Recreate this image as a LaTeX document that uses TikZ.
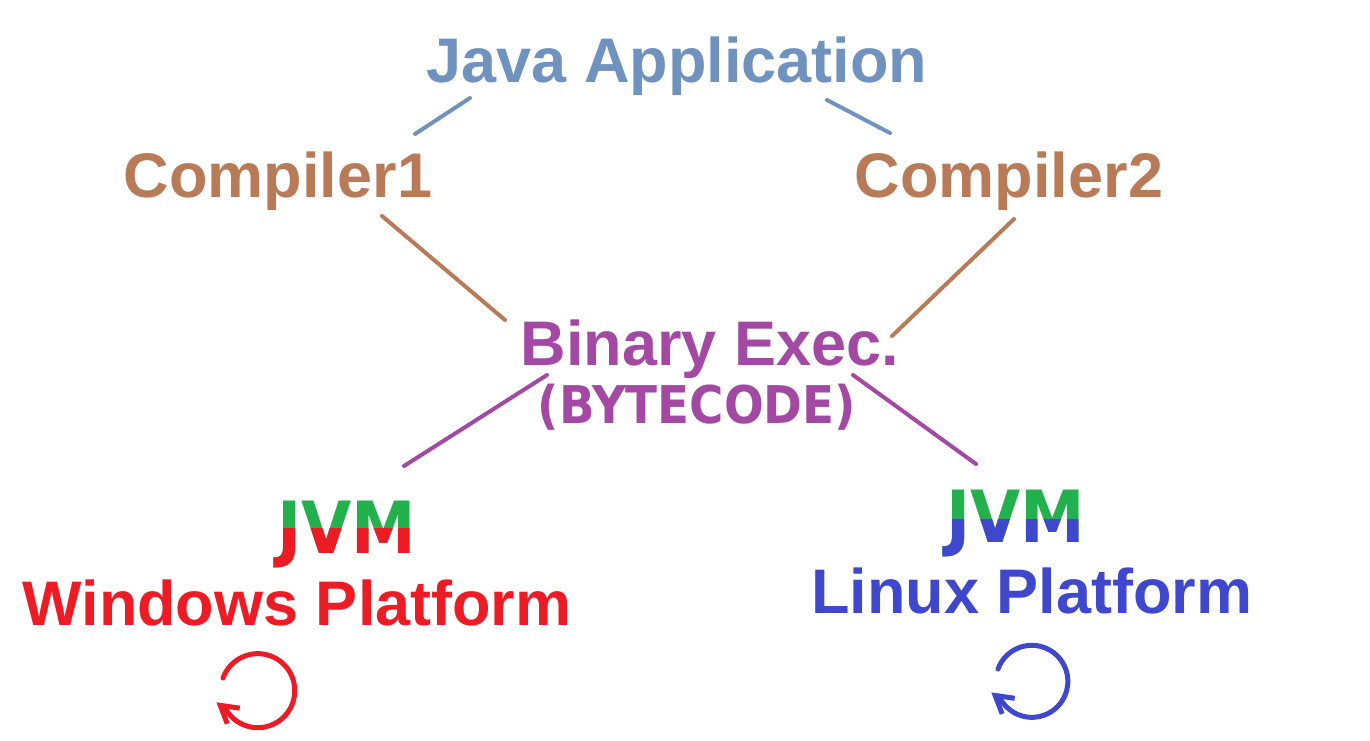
\documentclass[tikz,border=0pt]{standalone}
\usepackage{tikz}
\usepackage{xcolor}
\usepackage{fontspec}
\setmainfont{Liberation Sans}
\newfontfamily\comicfont{DejaVu Sans Condensed}
\usetikzlibrary{arrows.meta}

\definecolor{appblue}{RGB}{112,146,190}
\definecolor{compbrown}{RGB}{185,122,87}
\definecolor{binpurple}{RGB}{163,73,164}
\definecolor{winred}{RGB}{237,28,36}
\definecolor{linblue}{RGB}{63,72,204}
\definecolor{jvmgreen}{RGB}{34,177,76}

\begin{document}
\begin{tikzpicture}[x=0.5pt, y=-0.5pt,
    every node/.style = {inner sep=0pt, anchor=base,
      font=\fontsize{31.5}{36}\selectfont\bfseries},
    jvm/.style = {font=\comicfont\bfseries\fontsize{36}{40}\selectfont},
    code/.style = {font=\comicfont\bfseries\fontsize{26}{30}\selectfont},
    link/.style = {line width=2pt, line cap=round},
    turn/.style = {line width=2.5pt, line cap=round,
      -{Straight Barb[length=8.5pt,width=10pt]}}]
    \useasboundingbox (0,0) rectangle (1370,740);
    \node[appblue] (app) at (677,82) {Java Application};
    \node[compbrown] (comp1) at (278,197) {Compiler1};
    \node[compbrown] (comp2) at (1009,197) {Compiler2};
    \node[binpurple] (binary) at (710,365) {Binary Exec.};
    \node[binpurple, code] (bytecode) at (697,423) {(BYTECODE)};
    \node[winred] (win) at (297,625) {Windows Platform};
    \node[linblue] (lin) at (1032,613) {Linux Platform};
    % JVM, green on top
    \node[jvm, jvmgreen] (jvmwin) at (347,553) {JVM};
    \node[jvm, jvmgreen] (jvmlin) at (1016,542) {JVM};
    \begin{scope}
      \clip ([shift={(-90,-25)}]jvmwin.base) rectangle ([shift={(90,30)}]jvmwin.base);
      \node[jvm, winred] (jvmwinlow) at (jvmwin.base) {JVM};
    \end{scope}
    \begin{scope}
      \clip ([shift={(-90,-23)}]jvmlin.base) rectangle ([shift={(90,30)}]jvmlin.base);
      \node[jvm, linblue] (jvmlinlow) at (jvmlin.base) {JVM};
    \end{scope}
    % links
    \draw[link, appblue] ([shift={(-207,16)}]app.base) -- ([shift={(137,-63)}]comp1.base);
    \draw[link, appblue] ([shift={(150,18)}]app.base) -- ([shift={(-119,-64)}]comp2.base);
    \draw[link, compbrown] ([shift={(104,19)}]comp1.base) -- ([shift={(-205,-45)}]binary.base);
    \draw[link, compbrown] ([shift={(5,22)}]comp2.base) -- ([shift={(182,-29)}]binary.base);
    \draw[link, binpurple] ([shift={(-163,10)}]binary.base) -- ([shift={(57,-87)}]jvmwin.base);
    \draw[link, binpurple] ([shift={(143,10)}]binary.base) -- ([shift={(-40,-78)}]jvmlin.base);
    % turning arrows
    \draw[turn, winred] ([shift={(-74,53)}]win.base)
      arc[start angle=160, end angle=-148, radius=18.5pt] -- ++(-10,-8);
    \draw[turn, linblue] ([shift={(-34,56)}]lin.base)
      arc[start angle=160, end angle=-148, radius=18pt] -- ++(-10,-8);
\end{tikzpicture}
\end{document}
